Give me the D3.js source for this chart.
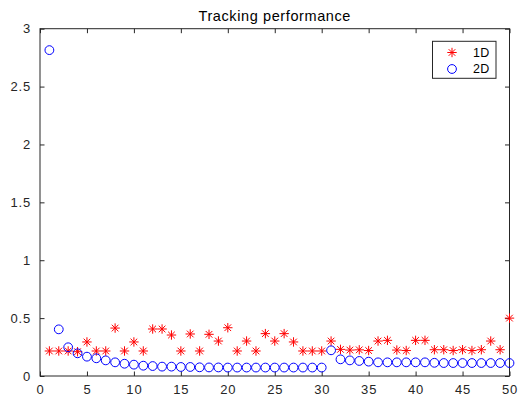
<!DOCTYPE html>
<html>
<head>
<meta charset="utf-8">
<script src="https://cdn.jsdelivr.net/npm/d3@7/dist/d3.min.js"></script>
<style>
  html, body { margin: 0; padding: 0; background: #fff; }
  svg { display: block; }
  text { font-family: "Liberation Sans", Arial, Helvetica, sans-serif; }
</style>
</head>
<body>
<svg id="chart" width="523" height="401"></svg>
<script>
// Tracking error per trial for the 1D and 2D trackers
const trials = d3.range(1, 51);
const values1D = [
  0.216, 0.216, 0.216, 0.21, 0.294, 0.216, 0.216, 0.414, 0.216, 0.294,
  0.216, 0.406, 0.406, 0.354, 0.216, 0.363, 0.216, 0.36, 0.302, 0.417,
  0.216, 0.302, 0.216, 0.366, 0.302, 0.366, 0.294, 0.216, 0.216, 0.216,
  0.302, 0.23, 0.224, 0.226, 0.22, 0.302, 0.308, 0.224, 0.22, 0.308,
  0.308, 0.227, 0.227, 0.22, 0.227, 0.22, 0.227, 0.302, 0.227, 0.5
];
const values2D = [
  2.815, 0.403, 0.248, 0.196, 0.167, 0.153, 0.135, 0.118, 0.106, 0.098,
  0.089, 0.086, 0.081, 0.081, 0.078, 0.078, 0.075, 0.074, 0.074, 0.073,
  0.073, 0.073, 0.073, 0.073, 0.073, 0.073, 0.073, 0.073, 0.073, 0.073,
  0.222, 0.144, 0.135, 0.13, 0.124, 0.118, 0.118, 0.118, 0.118, 0.118,
  0.118, 0.114, 0.112, 0.112, 0.112, 0.112, 0.112, 0.112, 0.112, 0.112
];
const xTicks = [0, 5, 10, 15, 20, 25, 30, 35, 40, 45, 50];
const yTicks = [0, 0.5, 1, 1.5, 2, 2.5, 3];
const seriesNames = ["1D", "2D"];
const chartTitle = "Tracking performance";

(function draw() {
  const svg = d3.select("#chart");
  const plotL = 40, plotR = 509.5, plotT = 28.7, plotB = 376;

  const x = d3.scaleLinear().domain([0, 50]).range([plotL, plotR]);
  const y = d3.scaleLinear().domain([0, 3]).range([plotB, plotT]);

  const tickLen = 4.5;
  const fmt = d => d3.format("")(d);

  // Axes with inward ticks on all four sides
  const axisBottom = d3.axisBottom(x).tickValues(xTicks).tickFormat(fmt).tickSizeInner(-tickLen).tickSizeOuter(0).tickPadding(9);
  const axisTop = d3.axisTop(x).tickValues(xTicks).tickFormat("").tickSizeInner(-tickLen).tickSizeOuter(0);
  const axisLeft = d3.axisLeft(y).tickValues(yTicks).tickFormat(fmt).tickSizeInner(-tickLen).tickSizeOuter(0).tickPadding(9);
  const axisRight = d3.axisRight(y).tickValues(yTicks).tickFormat("").tickSizeInner(-tickLen).tickSizeOuter(0);

  function styleAxis(g) {
    g.select(".domain").remove();
    g.selectAll(".tick line").attr("stroke", "#262626").attr("stroke-width", 1);
    g.selectAll(".tick text").attr("fill", "#262626").attr("font-size", 13)
      .attr("letter-spacing", 0.8)
      .attr("font-family", "'Liberation Sans', Arial, Helvetica, sans-serif");
  }

  svg.append("g").attr("transform", `translate(0,${plotB})`).call(axisBottom).call(styleAxis);
  svg.append("g").attr("transform", `translate(0,${plotT})`).call(axisTop).call(styleAxis);
  svg.append("g").attr("transform", `translate(${plotL},0)`).call(axisLeft).call(styleAxis);
  svg.append("g").attr("transform", `translate(${plotR},0)`).call(axisRight).call(styleAxis);

  // Plot box
  svg.append("rect")
    .attr("x", plotL).attr("y", plotT)
    .attr("width", plotR - plotL).attr("height", plotB - plotT)
    .attr("fill", "none").attr("stroke", "#262626").attr("stroke-width", 1);

  // Asterisk marker: a "+" and an "x" overlaid
  function starPath(r) {
    const d = r * Math.SQRT1_2;
    return `M${-r},0L${r},0M0,${-r}L0,${r}M${-d},${-d}L${d},${d}M${-d},${d}L${d},${-d}`;
  }

  const markerR = 4.4;

  svg.append("g").selectAll("path")
    .data(trials.map((t, i) => [t, values1D[i]]))
    .join("path")
    .attr("transform", d => `translate(${x(d[0])},${y(d[1])})`)
    .attr("d", starPath(markerR + 0.3))
    .attr("fill", "none").attr("stroke", "#ff0000").attr("stroke-width", 1);

  svg.append("g").selectAll("circle")
    .data(trials.map((t, i) => [t, values2D[i]]))
    .join("circle")
    .attr("cx", d => x(d[0])).attr("cy", d => y(d[1]))
    .attr("r", markerR)
    .attr("fill", "none").attr("stroke", "#0000ff").attr("stroke-width", 1);

  // Title
  svg.append("text")
    .attr("x", (plotL + plotR) / 2).attr("y", 21)
    .attr("text-anchor", "middle")
    .attr("font-size", 14.5).attr("letter-spacing", 0.6).attr("fill", "#000")
    .text(chartTitle);

  // Legend
  const lg = svg.append("g");
  lg.append("rect")
    .attr("x", 432.5).attr("y", 41.3)
    .attr("width", 63.5).attr("height", 37)
    .attr("fill", "#fff").attr("stroke", "#262626").attr("stroke-width", 1);
  const rows = [52.5, 69];
  lg.append("path")
    .attr("transform", `translate(452,${rows[0]})`)
    .attr("d", starPath(markerR + 0.3))
    .attr("fill", "none").attr("stroke", "#ff0000");
  lg.append("circle")
    .attr("cx", 452).attr("cy", rows[1]).attr("r", markerR)
    .attr("fill", "none").attr("stroke", "#0000ff");
  lg.selectAll("text.label")
    .data(seriesNames)
    .join("text")
    .attr("class", "label")
    .attr("x", 473).attr("y", (d, i) => rows[i])
    .attr("dy", "0.35em")
    .attr("font-size", 12.5).attr("letter-spacing", 0.4).attr("fill", "#000")
    .text(d => d);
})();
</script>
</body>
</html>
